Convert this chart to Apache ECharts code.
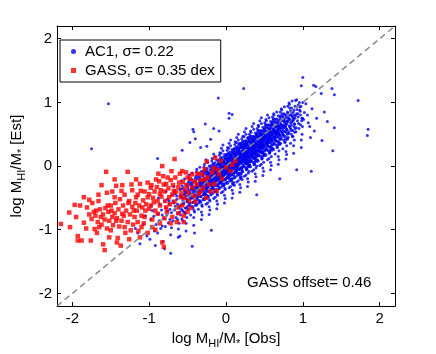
<!DOCTYPE html>
<html lang="en">
<head>
    <meta charset="UTF-8">
    <script src="https://cdn.jsdelivr.net/npm/echarts@6/dist/echarts.min.js"></script>
    <title>HI fraction estimate</title>
    <style>
        body { margin: 0; background: #fff; }
    </style>
</head>
<body>
<div id="main" style="width: 436px;height:354px;"></div>

<script>
    // axis range and tick labels
    var axisRange = [-2.2, 2.2];
    var tickValues = [-2, -1, 0, 1, 2];
    var identityLine = [[-2.2, -2.2], [2.2, 2.2]];

    var ac1Name = 'AC1, σ= 0.22';
    var gassName = 'GASS, σ= 0.35 dex';
    var offsetText = 'GASS offset= 0.46';

    var ac1Points = [
        [-1.15,-1.05],[-1.08,-0.92],[-1.12,-1.22],[-1.03,-1.10],[-1.18,-0.98],[-1.05,-0.78],
        [-0.98,-0.84],[-0.93,-1.02],[-0.96,-0.70],[-0.91,-0.92],[-0.99,-1.15],[-0.94,-0.79],[-0.92,-1.25],[-0.97,-0.62],
        [-0.88,-0.75],[-0.83,-0.94],[-0.86,-0.60],[-0.81,-0.82],[-0.89,-1.05],[-0.84,-0.69],[-0.82,-1.18],[-0.87,-0.86],[-0.80,-0.55],[-0.85,-0.98],[-0.83,-0.77],[-0.88,-0.50],
        [-0.78,-0.66],[-0.73,-0.84],[-0.76,-0.52],[-0.71,-0.73],[-0.79,-0.95],[-0.74,-0.60],[-0.72,-1.08],[-0.77,-0.77],[-0.70,-0.45],[-0.75,-0.89],[-0.73,-0.68],[-0.78,-0.40],[-0.71,-0.97],[-0.76,-0.71],[-0.74,-0.55],[-0.72,-1.37],
        [-0.68,-0.58],[-0.63,-0.75],[-0.66,-0.44],[-0.61,-0.65],[-0.69,-0.86],[-0.64,-0.52],[-0.62,-0.99],[-0.67,-0.69],[-0.60,-0.37],[-0.65,-0.81],[-0.63,-0.60],[-0.68,-0.32],[-0.61,-0.90],[-0.66,-0.63],[-0.64,-0.47],[-0.62,-1.12],[-0.69,-0.55],[-0.60,-0.72],[-0.67,-0.40],[-0.63,-0.84],
        [-0.58,-0.49],[-0.53,-0.66],[-0.56,-0.35],[-0.51,-0.56],[-0.59,-0.77],[-0.54,-0.43],[-0.52,-0.90],[-0.57,-0.60],[-0.50,-0.28],[-0.55,-0.72],[-0.53,-0.51],[-0.58,-0.23],[-0.51,-0.81],[-0.56,-0.54],[-0.54,-0.38],[-0.52,-1.02],[-0.59,-0.46],[-0.50,-0.63],[-0.57,-0.31],[-0.53,-0.75],[-0.55,-0.58],[-0.51,-0.42],[-0.58,-0.68],[-0.54,-0.20],[-0.56,-0.86],[-0.52,-0.47],
        [-0.48,-0.40],[-0.43,-0.57],[-0.46,-0.26],[-0.41,-0.47],[-0.49,-0.68],[-0.44,-0.34],[-0.42,-0.81],[-0.47,-0.51],[-0.40,-0.19],[-0.45,-0.63],[-0.43,-0.42],[-0.48,-0.14],[-0.41,-0.72],[-0.46,-0.45],[-0.44,-0.29],[-0.42,-0.93],[-0.49,-0.37],[-0.40,-0.54],[-0.47,-0.22],[-0.43,-0.66],[-0.45,-0.49],[-0.41,-0.33],[-0.48,-0.59],[-0.44,-0.11],[-0.46,-0.77],[-0.42,-0.38],[-0.47,-0.44],[-0.40,-0.62],[-0.45,-0.31],[-0.43,-0.50],[-0.49,-0.25],[-0.41,-1.05],
        [-0.38,-0.31],[-0.33,-0.48],[-0.36,-0.17],[-0.31,-0.38],[-0.39,-0.59],[-0.34,-0.25],[-0.32,-0.72],[-0.37,-0.42],[-0.30,-0.10],[-0.35,-0.54],[-0.33,-0.33],[-0.38,-0.05],[-0.31,-0.63],[-0.36,-0.36],[-0.34,-0.20],[-0.32,-0.84],[-0.39,-0.28],[-0.30,-0.45],[-0.37,-0.13],[-0.33,-0.57],[-0.35,-0.40],[-0.31,-0.24],[-0.38,-0.50],[-0.34,-0.02],[-0.36,-0.68],[-0.32,-0.29],[-0.37,-0.35],[-0.30,-0.53],[-0.35,-0.22],[-0.33,-0.41],[-0.39,-0.16],[-0.31,-0.77],[-0.36,-0.46],[-0.34,-0.31],[-0.38,-0.61],[-0.32,-0.08],[-0.35,-0.37],[-0.30,-0.27],
        [-0.28,-0.23],[-0.23,-0.40],[-0.26,-0.09],[-0.21,-0.30],[-0.29,-0.51],[-0.24,-0.17],[-0.22,-0.64],[-0.27,-0.34],[-0.20,-0.02],[-0.25,-0.46],[-0.23,-0.25],[-0.28,0.03],[-0.21,-0.55],[-0.26,-0.28],[-0.24,-0.12],[-0.22,-0.76],[-0.29,-0.20],[-0.20,-0.37],[-0.27,-0.05],[-0.23,-0.49],[-0.25,-0.32],[-0.21,-0.16],[-0.28,-0.42],[-0.24,0.06],[-0.26,-0.60],[-0.22,-0.21],[-0.27,-0.27],[-0.20,-0.45],[-0.25,-0.14],[-0.23,-0.33],[-0.29,-0.08],[-0.21,-0.69],[-0.26,-0.38],[-0.24,-0.23],[-0.28,-0.53],[-0.22,0.00],[-0.25,-0.29],[-0.20,-0.19],[-0.27,-0.44],[-0.23,-0.11],[-0.29,-0.35],[-0.21,-0.26],[-0.26,0.10],[-0.24,-0.58],
        [-0.18,-0.14],[-0.13,-0.31],[-0.16,0.00],[-0.11,-0.21],[-0.19,-0.42],[-0.14,-0.08],[-0.12,-0.55],[-0.17,-0.25],[-0.10,0.07],[-0.15,-0.37],[-0.13,-0.16],[-0.18,0.12],[-0.11,-0.46],[-0.16,-0.19],[-0.14,-0.03],[-0.12,-0.67],[-0.19,-0.11],[-0.10,-0.28],[-0.17,0.04],[-0.13,-0.40],[-0.15,-0.23],[-0.11,-0.07],[-0.18,-0.33],[-0.14,0.15],[-0.16,-0.51],[-0.12,-0.12],[-0.17,-0.18],[-0.10,-0.36],[-0.15,-0.05],[-0.13,-0.24],[-0.19,0.01],[-0.11,-0.60],[-0.16,-0.29],[-0.14,-0.14],[-0.18,-0.44],[-0.12,0.09],[-0.15,-0.20],[-0.10,-0.10],[-0.17,-0.35],[-0.13,-0.02],[-0.19,-0.26],[-0.11,-0.17],[-0.16,0.19],[-0.14,-0.49],[-0.18,-0.06],[-0.12,-0.30],[-0.15,-0.13],[-0.11,0.03],[-0.17,-0.22],[-0.13,-0.39],
        [-0.08,-0.05],[-0.03,-0.22],[-0.06,0.09],[-0.01,-0.12],[-0.09,-0.33],[-0.04,0.01],[-0.02,-0.46],[-0.07,-0.16],[0.00,0.16],[-0.05,-0.28],[-0.03,-0.07],[-0.08,0.21],[-0.01,-0.37],[-0.06,-0.10],[-0.04,0.06],[-0.02,-0.58],[-0.09,-0.02],[0.00,-0.19],[-0.07,0.13],[-0.03,-0.31],[-0.05,-0.14],[-0.01,0.02],[-0.08,-0.24],[-0.04,0.24],[-0.06,-0.42],[-0.02,-0.03],[-0.07,-0.09],[0.00,-0.27],[-0.05,0.04],[-0.03,-0.15],[-0.09,0.10],[-0.01,-0.51],[-0.06,-0.20],[-0.04,-0.05],[-0.08,-0.35],[-0.02,0.18],[-0.05,-0.11],[0.00,-0.01],[-0.07,-0.26],[-0.03,0.07],[-0.09,-0.17],[-0.01,-0.08],[-0.06,0.28],[-0.04,-0.40],[-0.08,0.03],[-0.02,-0.21],[-0.05,-0.04],[-0.01,0.12],[-0.07,-0.13],[-0.03,-0.30],[-0.06,0.05],[-0.02,-0.10],[-0.08,-0.19],[-0.04,0.33],
        [0.02,0.03],[0.07,-0.14],[0.04,0.17],[0.09,-0.04],[0.01,-0.25],[0.06,0.09],[0.08,-0.38],[0.03,-0.08],[0.10,0.24],[0.05,-0.20],[0.07,0.01],[0.02,0.29],[0.09,-0.29],[0.04,-0.02],[0.06,0.14],[0.08,-0.50],[0.01,0.06],[0.10,-0.11],[0.03,0.21],[0.07,-0.23],[0.05,-0.06],[0.09,0.10],[0.02,-0.16],[0.06,0.32],[0.04,-0.34],[0.08,0.05],[0.03,-0.01],[0.10,-0.19],[0.05,0.12],[0.07,-0.07],[0.01,0.18],[0.09,-0.43],[0.04,-0.12],[0.06,0.03],[0.02,-0.27],[0.08,0.26],[0.05,-0.03],[0.10,0.07],[0.03,-0.18],[0.07,0.15],[0.01,-0.09],[0.09,0.00],[0.04,0.36],[0.06,-0.32],[0.02,0.11],[0.08,-0.13],[0.05,0.04],[0.09,0.20],[0.03,-0.05],[0.07,-0.22],[0.04,0.13],[0.08,-0.02],[0.02,-0.11],[0.06,0.41],[0.05,0.08],[0.10,-0.26],[0.03,0.02],[0.07,0.19],
        [0.12,0.12],[0.17,-0.05],[0.14,0.26],[0.19,0.05],[0.11,-0.16],[0.16,0.18],[0.18,-0.29],[0.13,0.01],[0.20,0.33],[0.15,-0.11],[0.17,0.10],[0.12,0.38],[0.19,-0.20],[0.14,0.07],[0.16,0.23],[0.18,-0.41],[0.11,0.15],[0.20,-0.02],[0.13,0.30],[0.17,-0.14],[0.15,0.03],[0.19,0.19],[0.12,-0.07],[0.16,0.41],[0.14,-0.25],[0.18,0.14],[0.13,0.08],[0.20,-0.10],[0.15,0.21],[0.17,0.02],[0.11,0.27],[0.19,-0.34],[0.14,-0.03],[0.16,0.12],[0.12,-0.18],[0.18,0.35],[0.15,0.06],[0.20,0.16],[0.13,-0.09],[0.17,0.24],[0.11,0.00],[0.19,0.09],[0.14,0.45],[0.16,-0.23],[0.12,0.20],[0.18,-0.04],[0.15,0.13],[0.19,0.29],[0.13,0.04],[0.17,-0.13],[0.14,0.22],[0.18,0.07],[0.12,-0.02],[0.16,0.50],[0.15,0.17],[0.20,-0.17],[0.13,0.11],[0.17,0.28],[0.11,-0.30],[0.19,0.36],
        [0.22,0.21],[0.27,0.04],[0.24,0.35],[0.29,0.14],[0.21,-0.07],[0.26,0.27],[0.28,-0.20],[0.23,0.10],[0.30,0.42],[0.25,-0.02],[0.27,0.19],[0.22,0.47],[0.29,-0.11],[0.24,0.16],[0.26,0.32],[0.28,-0.32],[0.21,0.24],[0.30,0.07],[0.23,0.39],[0.27,-0.05],[0.25,0.12],[0.29,0.28],[0.22,0.02],[0.26,0.50],[0.24,-0.16],[0.28,0.23],[0.23,0.17],[0.30,-0.01],[0.25,0.30],[0.27,0.11],[0.21,0.36],[0.29,-0.25],[0.24,0.06],[0.26,0.21],[0.22,-0.09],[0.28,0.44],[0.25,0.15],[0.30,0.25],[0.23,0.00],[0.27,0.33],[0.21,0.09],[0.29,0.18],[0.24,0.54],[0.26,-0.14],[0.22,0.29],[0.28,0.05],[0.25,0.22],[0.29,0.38],[0.23,0.13],[0.27,-0.04],[0.24,0.31],[0.28,0.16],[0.22,0.07],[0.26,0.59],[0.25,0.26],[0.30,-0.08],[0.23,0.20],[0.27,0.37],[0.21,-0.21],[0.29,0.45],
        [0.32,0.29],[0.37,0.12],[0.34,0.43],[0.39,0.22],[0.31,0.01],[0.36,0.35],[0.38,-0.12],[0.33,0.18],[0.40,0.50],[0.35,0.06],[0.37,0.27],[0.32,0.55],[0.39,-0.03],[0.34,0.24],[0.36,0.40],[0.38,-0.24],[0.31,0.32],[0.40,0.15],[0.33,0.47],[0.37,0.03],[0.35,0.20],[0.39,0.36],[0.32,0.10],[0.36,0.58],[0.34,-0.08],[0.38,0.31],[0.33,0.25],[0.40,0.07],[0.35,0.38],[0.37,0.19],[0.31,0.44],[0.39,-0.17],[0.34,0.14],[0.36,0.29],[0.32,-0.01],[0.38,0.52],[0.35,0.23],[0.40,0.33],[0.33,0.08],[0.37,0.41],[0.31,0.17],[0.39,0.26],[0.34,0.62],[0.36,-0.06],[0.32,0.37],[0.38,0.13],[0.35,0.30],[0.39,0.46],[0.33,0.21],[0.37,0.04],[0.34,0.39],[0.38,0.24],[0.32,0.15],[0.36,0.67],[0.35,0.34],[0.40,0.00],[0.33,0.28],[0.37,0.45],
        [0.42,0.38],[0.47,0.21],[0.44,0.52],[0.49,0.31],[0.41,0.10],[0.46,0.44],[0.48,-0.03],[0.43,0.27],[0.50,0.59],[0.45,0.15],[0.47,0.36],[0.42,0.64],[0.49,0.06],[0.44,0.33],[0.46,0.49],[0.48,-0.15],[0.41,0.41],[0.50,0.24],[0.43,0.56],[0.47,0.12],[0.45,0.29],[0.49,0.45],[0.42,0.19],[0.46,0.67],[0.44,0.01],[0.48,0.40],[0.43,0.34],[0.50,0.16],[0.45,0.47],[0.47,0.28],[0.41,0.53],[0.49,-0.08],[0.44,0.23],[0.46,0.38],[0.42,0.08],[0.48,0.61],[0.45,0.32],[0.50,0.42],[0.43,0.17],[0.47,0.50],[0.41,0.26],[0.49,0.35],[0.44,0.71],[0.46,0.03],[0.42,0.46],[0.48,0.22],[0.45,0.39],[0.49,0.55],[0.43,0.30],[0.47,0.13],[0.44,0.48],[0.48,0.33],[0.42,0.24],[0.46,0.76],[0.45,0.43],
        [0.52,0.47],[0.57,0.30],[0.54,0.61],[0.59,0.40],[0.51,0.19],[0.56,0.53],[0.58,0.06],[0.53,0.36],[0.60,0.68],[0.55,0.24],[0.57,0.45],[0.52,0.73],[0.59,0.15],[0.54,0.42],[0.56,0.58],[0.58,-0.06],[0.51,0.50],[0.60,0.33],[0.53,0.65],[0.57,0.21],[0.55,0.38],[0.59,0.54],[0.52,0.28],[0.56,0.76],[0.54,0.10],[0.58,0.49],[0.53,0.43],[0.60,0.25],[0.55,0.56],[0.57,0.37],[0.51,0.62],[0.59,0.01],[0.54,0.32],[0.56,0.47],[0.52,0.17],[0.58,0.70],[0.55,0.41],[0.60,0.51],[0.53,0.26],[0.57,0.59],[0.51,0.35],[0.59,0.44],[0.54,0.80],[0.56,0.12],[0.52,0.55],[0.58,0.31],[0.55,0.48],[0.59,0.64],[0.53,0.39],[0.57,0.22],
        [0.62,0.56],[0.67,0.39],[0.64,0.70],[0.69,0.49],[0.61,0.28],[0.66,0.62],[0.68,0.15],[0.63,0.45],[0.70,0.77],[0.65,0.33],[0.67,0.54],[0.62,0.82],[0.69,0.24],[0.64,0.51],[0.66,0.67],[0.68,0.03],[0.61,0.59],[0.70,0.42],[0.63,0.74],[0.67,0.30],[0.65,0.47],[0.69,0.63],[0.62,0.37],[0.66,0.85],[0.64,0.19],[0.68,0.58],[0.63,0.52],[0.70,0.34],[0.65,0.65],[0.67,0.46],[0.61,0.71],[0.69,0.10],[0.64,0.41],[0.66,0.56],[0.62,0.26],[0.68,0.79],[0.65,0.50],[0.70,0.60],[0.63,0.35],[0.67,0.68],[0.61,0.44],[0.69,0.53],
        [0.72,0.64],[0.77,0.47],[0.74,0.78],[0.79,0.57],[0.71,0.36],[0.76,0.70],[0.78,0.23],[0.73,0.53],[0.80,0.85],[0.75,0.41],[0.77,0.62],[0.72,0.90],[0.79,0.32],[0.74,0.59],[0.76,0.75],[0.78,0.11],[0.71,0.67],[0.80,0.50],[0.73,0.82],[0.77,0.38],[0.75,0.55],[0.79,0.71],[0.72,0.45],[0.76,0.93],[0.74,0.27],[0.78,0.66],[0.73,0.60],[0.80,0.42],[0.75,0.73],[0.77,0.54],[0.71,0.79],[0.79,0.18],[0.74,0.49],[0.76,0.64],
        [0.82,0.73],[0.87,0.56],[0.84,0.87],[0.89,0.66],[0.81,0.45],[0.86,0.79],[0.88,0.32],[0.83,0.62],[0.90,0.94],[0.85,0.50],[0.87,0.71],[0.82,0.99],[0.89,0.41],[0.84,0.68],[0.86,0.84],[0.88,0.20],[0.81,0.76],[0.90,0.59],[0.83,0.91],[0.87,0.47],[0.85,0.64],[0.89,0.80],[0.82,0.54],[0.86,1.02],[0.84,0.36],[0.88,0.75],
        [0.92,0.82],[0.97,0.65],[0.94,0.96],[0.99,0.75],[0.91,0.54],[0.96,0.88],[0.98,0.41],[0.93,0.71],[1.00,1.00],[0.95,0.59],[0.97,0.80],[0.92,1.04],[0.99,0.50],[0.94,0.77],[0.96,0.93],[0.98,0.29],
        [1.02,0.84],[1.07,0.68],[1.04,0.98],[1.09,0.62],[1.01,0.73],[1.12,0.90],[1.15,0.55],[1.06,0.80],[1.18,0.75],[1.10,0.45],
        [-1.53,0.98],[-1.75,0.27],[-0.10,1.07],[0.23,1.22],[1.00,1.39],[1.72,1.03],[1.85,0.58],[1.84,0.48],[1.39,0.24],[1.41,1.12],
        [1.38,1.22],[1.24,1.14],[1.17,1.25],[0.98,1.26],[1.41,0.60],[1.11,-0.08],[0.92,-0.06],[-0.19,-1.01],[-0.44,-1.26],[-0.89,0.12],
        [-0.47,0.37],[-0.27,0.66],[0.08,0.81],[-0.42,0.54],[0.04,0.83],[0.04,0.75],[-0.43,0.58],[-0.40,0.43],[-0.57,0.25],[-0.16,0.59],
        [-0.09,0.55],[-0.20,0.42],[-0.33,0.29],[-0.25,0.31],[1.14,1.27],[1.28,0.85],[1.25,0.40],[1.32,0.70],[0.70,-0.20],[0.40,-0.45],
        [-0.60,-1.10],[-0.80,-1.30]
    ];

    // more AC1 points in the dense core of the cloud
    var ac1Core = [
        [-0.595,-0.62],[-0.515,-0.41],[-0.565,-0.50],[-0.535,-0.73],[-0.585,-0.36],[-0.505,-0.55],[-0.545,-0.45],[-0.575,-0.83],[-0.525,-0.30],[-0.555,-0.60],[-0.515,-0.66],[-0.595,-0.47],[-0.535,-0.39],[-0.565,-0.70],[-0.505,-0.52],
        [-0.455,-0.36],[-0.495,-0.55],[-0.415,-0.48],[-0.475,-0.29],[-0.435,-0.64],[-0.405,-0.40],[-0.485,-0.47],[-0.445,-0.21],[-0.425,-0.57],[-0.465,-0.43],[-0.495,-0.33],[-0.415,-0.70],[-0.455,-0.51],[-0.435,-0.26],[-0.405,-0.45],[-0.475,-0.62],[-0.445,-0.38],[-0.485,-0.18],[-0.425,-0.35],[-0.465,-0.58],
        [-0.355,-0.27],[-0.395,-0.46],[-0.315,-0.39],[-0.375,-0.20],[-0.335,-0.55],[-0.305,-0.31],[-0.385,-0.38],[-0.345,-0.12],[-0.325,-0.48],[-0.365,-0.34],[-0.395,-0.24],[-0.315,-0.61],[-0.355,-0.42],[-0.335,-0.17],[-0.305,-0.36],[-0.375,-0.53],[-0.345,-0.29],[-0.385,-0.09],[-0.325,-0.26],[-0.365,-0.49],[-0.395,-0.35],[-0.315,-0.22],[-0.355,-0.58],[-0.335,-0.41],[-0.305,-0.14],[-0.375,-0.32],
        [-0.255,-0.19],[-0.295,-0.38],[-0.215,-0.31],[-0.275,-0.12],[-0.235,-0.47],[-0.205,-0.23],[-0.285,-0.30],[-0.245,-0.04],[-0.225,-0.40],[-0.265,-0.26],[-0.295,-0.16],[-0.215,-0.53],[-0.255,-0.34],[-0.235,-0.09],[-0.205,-0.28],[-0.275,-0.45],[-0.245,-0.21],[-0.285,-0.01],[-0.225,-0.18],[-0.265,-0.41],[-0.295,-0.27],[-0.215,-0.14],[-0.255,-0.50],[-0.235,-0.33],[-0.205,-0.06],[-0.275,-0.24],[-0.245,-0.36],[-0.225,-0.11],[-0.285,-0.44],[-0.265,-0.20],[-0.215,-0.29],[-0.255,-0.07],
        [-0.155,-0.10],[-0.195,-0.29],[-0.115,-0.22],[-0.175,-0.03],[-0.135,-0.38],[-0.105,-0.14],[-0.185,-0.21],[-0.145,0.05],[-0.125,-0.31],[-0.165,-0.17],[-0.195,-0.07],[-0.115,-0.44],[-0.155,-0.25],[-0.135,0.00],[-0.105,-0.19],[-0.175,-0.36],[-0.145,-0.12],[-0.185,0.08],[-0.125,-0.09],[-0.165,-0.32],[-0.195,-0.18],[-0.115,-0.05],[-0.155,-0.41],[-0.135,-0.24],[-0.105,0.03],[-0.175,-0.15],[-0.145,-0.27],[-0.125,-0.02],[-0.185,-0.35],[-0.165,-0.11],[-0.115,-0.20],[-0.155,0.02],[-0.135,-0.13],[-0.105,-0.30],[-0.175,-0.08],[-0.195,-0.23],[-0.145,-0.19],[-0.125,-0.37],
        [-0.055,-0.01],[-0.095,-0.20],[-0.015,-0.13],[-0.075,0.06],[-0.035,-0.29],[-0.005,-0.05],[-0.085,-0.12],[-0.045,0.14],[-0.025,-0.22],[-0.065,-0.08],[-0.095,0.02],[-0.015,-0.35],[-0.055,-0.16],[-0.035,0.09],[-0.005,-0.10],[-0.075,-0.27],[-0.045,-0.03],[-0.085,0.17],[-0.025,0.00],[-0.065,-0.23],[-0.095,-0.09],[-0.015,0.04],[-0.055,-0.32],[-0.035,-0.15],[-0.005,0.12],[-0.075,-0.06],[-0.045,-0.18],[-0.025,0.07],[-0.085,-0.26],[-0.065,-0.02],[-0.015,-0.11],[-0.055,0.11],[-0.035,-0.04],[-0.005,-0.21],[-0.075,0.01],[-0.095,-0.14],[-0.045,-0.10],[-0.025,-0.28],[-0.065,0.20],[-0.085,-0.04],[-0.015,0.15],[-0.055,-0.24],[-0.035,-0.07],[-0.005,0.03],
        [0.045,0.07],[0.005,-0.12],[0.085,-0.05],[0.025,0.14],[0.065,-0.21],[0.095,0.03],[0.015,-0.04],[0.055,0.22],[0.075,-0.14],[0.035,0.00],[0.005,0.10],[0.085,-0.27],[0.045,-0.08],[0.065,0.17],[0.095,-0.02],[0.025,-0.19],[0.055,0.05],[0.015,0.25],[0.075,0.08],[0.035,-0.15],[0.005,-0.01],[0.085,0.12],[0.045,-0.24],[0.065,-0.07],[0.095,0.20],[0.025,0.02],[0.055,-0.10],[0.075,0.15],[0.015,-0.18],[0.035,0.06],[0.085,-0.03],[0.045,0.19],[0.065,0.04],[0.095,-0.13],[0.025,0.09],[0.005,-0.06],[0.055,-0.02],[0.075,-0.20],[0.035,0.28],[0.015,0.04],[0.085,0.23],[0.045,-0.16],[0.065,0.01],[0.095,0.11],[0.025,-0.09],[0.055,0.13],[0.005,0.18],[0.075,-0.04],[0.035,-0.11],[0.015,0.08],
        [0.145,0.16],[0.105,-0.03],[0.185,0.04],[0.125,0.23],[0.165,-0.12],[0.195,0.12],[0.115,0.05],[0.155,0.31],[0.175,-0.05],[0.135,0.09],[0.105,0.19],[0.185,-0.18],[0.145,0.01],[0.165,0.26],[0.195,0.07],[0.125,-0.10],[0.155,0.14],[0.115,0.34],[0.175,0.17],[0.135,-0.06],[0.105,0.08],[0.185,0.21],[0.145,-0.15],[0.165,0.02],[0.195,0.29],[0.125,0.11],[0.155,-0.01],[0.175,0.24],[0.115,-0.09],[0.135,0.15],[0.185,0.06],[0.145,0.28],[0.165,0.13],[0.195,-0.04],[0.125,0.18],[0.105,0.03],[0.155,0.07],[0.175,-0.11],[0.135,0.37],[0.115,0.13],[0.185,0.32],[0.145,-0.07],[0.165,0.10],[0.195,0.20],[0.125,0.00],[0.155,0.22],[0.105,0.27],[0.175,0.05],[0.135,-0.02],[0.115,0.17],[0.145,0.09],[0.185,0.14],[0.165,0.35],[0.125,0.06],[0.195,-0.13],
        [0.235,0.30],[0.275,0.09],[0.205,0.18],[0.255,0.40],[0.295,0.14],[0.215,-0.02],[0.265,0.25],[0.245,0.06],[0.285,0.33],[0.225,0.21],[0.205,0.43],[0.295,0.01],[0.255,0.17],[0.235,0.11],[0.275,0.36],[0.215,0.24],[0.265,-0.06],[0.285,0.20],[0.245,0.28],[0.225,0.08],[0.205,0.31],[0.295,0.23],[0.255,0.04],[0.235,0.46],[0.275,0.16],[0.215,0.13],[0.265,0.38],[0.285,-0.01],[0.245,0.19],[0.225,0.34],[0.205,0.05],[0.295,0.27],[0.255,0.12],[0.235,0.22],[0.275,0.03],[0.215,0.39],[0.265,0.15],[0.285,0.29],[0.245,0.10],[0.225,0.26],[0.205,0.20],[0.295,0.41],[0.255,0.24],[0.235,0.00],[0.275,0.22],[0.215,0.30],[0.265,0.07],[0.285,0.13],[0.245,0.35],[0.225,0.15],[0.205,-0.05],[0.295,0.09],[0.255,0.32],[0.235,0.18],[0.275,0.27],
        [0.325,0.36],[0.385,0.18],[0.305,0.26],[0.355,0.47],[0.395,0.22],[0.315,0.07],[0.365,0.33],[0.345,0.14],[0.375,0.41],[0.335,0.29],[0.305,0.50],[0.395,0.09],[0.355,0.25],[0.325,0.19],[0.385,0.44],[0.315,0.31],[0.365,0.02],[0.375,0.28],[0.345,0.36],[0.335,0.16],[0.305,0.39],[0.395,0.31],[0.355,0.12],[0.325,0.53],[0.385,0.24],[0.315,0.21],[0.365,0.46],[0.375,0.07],[0.345,0.27],[0.335,0.42],[0.305,0.13],[0.395,0.35],[0.355,0.20],[0.325,0.30],[0.385,0.11],[0.315,0.47],[0.365,0.23],[0.375,0.37],[0.345,0.18],[0.335,0.34],[0.305,0.28],[0.395,0.49],[0.355,0.32],[0.325,0.08],[0.385,0.30],[0.315,0.38],[0.365,0.15],[0.375,0.21],[0.345,0.43],[0.335,0.23],[0.305,0.03],[0.395,0.17],[0.355,0.40],[0.325,0.26],[0.385,0.35],
        [0.425,0.45],[0.485,0.27],[0.405,0.35],[0.455,0.56],[0.495,0.31],[0.415,0.16],[0.465,0.42],[0.445,0.23],[0.475,0.50],[0.435,0.38],[0.405,0.59],[0.495,0.18],[0.455,0.34],[0.425,0.28],[0.485,0.53],[0.415,0.40],[0.465,0.11],[0.475,0.37],[0.445,0.45],[0.435,0.25],[0.405,0.48],[0.495,0.40],[0.455,0.21],[0.425,0.62],[0.485,0.33],[0.415,0.30],[0.465,0.55],[0.475,0.16],[0.445,0.36],[0.435,0.51],[0.405,0.22],[0.495,0.44],[0.455,0.29],[0.425,0.39],[0.485,0.20],[0.415,0.56],[0.465,0.32],[0.475,0.46],[0.445,0.27],[0.435,0.43],[0.405,0.37],[0.495,0.58],[0.455,0.41],[0.425,0.17],[0.485,0.39],[0.415,0.47],[0.465,0.24],[0.475,0.30],[0.445,0.52],[0.435,0.32],
        [0.525,0.54],[0.585,0.36],[0.505,0.44],[0.555,0.65],[0.595,0.40],[0.515,0.25],[0.565,0.51],[0.545,0.32],[0.575,0.59],[0.535,0.47],[0.505,0.68],[0.595,0.27],[0.555,0.43],[0.525,0.37],[0.585,0.62],[0.515,0.49],[0.565,0.20],[0.575,0.46],[0.545,0.54],[0.535,0.34],[0.505,0.57],[0.595,0.49],[0.555,0.30],[0.525,0.71],[0.585,0.42],[0.515,0.39],[0.565,0.64],[0.575,0.25],[0.545,0.45],[0.535,0.60],[0.505,0.31],[0.595,0.53],[0.555,0.38],[0.525,0.48],[0.585,0.29],[0.515,0.65],[0.565,0.41],[0.575,0.55],[0.545,0.36],[0.535,0.52],[0.505,0.46],[0.595,0.67],[0.555,0.50],[0.525,0.26],[0.585,0.48],
        [0.625,0.63],[0.685,0.45],[0.605,0.53],[0.655,0.74],[0.695,0.49],[0.615,0.34],[0.665,0.60],[0.645,0.41],[0.675,0.68],[0.635,0.56],[0.605,0.77],[0.695,0.36],[0.655,0.52],[0.625,0.46],[0.685,0.71],[0.615,0.58],[0.665,0.29],[0.675,0.55],[0.645,0.63],[0.635,0.43],[0.605,0.66],[0.695,0.58],[0.655,0.39],[0.625,0.80],[0.685,0.51],[0.615,0.48],[0.665,0.73],[0.675,0.34],[0.645,0.54],[0.635,0.69],[0.605,0.40],[0.695,0.62],[0.655,0.47],[0.625,0.57],[0.685,0.38],[0.615,0.74],[0.665,0.50],[0.675,0.64],[0.645,0.45],[0.635,0.61],
        [0.725,0.71],[0.785,0.53],[0.705,0.61],[0.755,0.82],[0.795,0.57],[0.715,0.42],[0.765,0.68],[0.745,0.49],[0.775,0.76],[0.735,0.64],[0.705,0.85],[0.795,0.44],[0.755,0.60],[0.725,0.54],[0.785,0.79],[0.715,0.66],[0.765,0.37],[0.775,0.63],[0.745,0.71],[0.735,0.51],[0.705,0.74],[0.795,0.66],[0.755,0.47],[0.725,0.88],[0.785,0.59],[0.715,0.56],[0.765,0.81],[0.775,0.42],[0.745,0.62],[0.735,0.77],[0.705,0.48],[0.795,0.70],
        [0.825,0.80],[0.885,0.62],[0.805,0.70],[0.855,0.91],[0.895,0.66],[0.815,0.51],[0.865,0.77],[0.845,0.58],[0.875,0.85],[0.835,0.73],[0.805,0.94],[0.895,0.53],[0.855,0.69],[0.825,0.63],[0.885,0.88],[0.815,0.75],[0.865,0.46],[0.875,0.72],[0.845,0.80],[0.835,0.60],[0.805,0.83],[0.895,0.75],[0.855,0.56],[0.825,0.97],
        [0.925,0.89],[0.985,0.71],[0.905,0.79],[0.955,1.00],[0.995,0.75],[0.915,0.60],[0.965,0.86],[0.945,0.67],[0.975,0.94],[0.935,0.82],[0.905,1.03],[0.995,0.62]
    ];

    // GASS points
    var gassPoints = [
        [-2.15,-0.91],[-2.03,-0.96],[-2.04,-0.73],[-1.97,-0.61],[-1.93,-1.10],[-1.88,-1.17],[-1.93,-1.17],[-1.85,-0.49],[-1.85,-0.89],[-1.81,-0.65],
        [-1.78,-0.53],[-1.76,-1.17],[-1.75,-0.83],[-1.71,-0.99],[-1.69,-0.70],[-1.66,-0.55],[-1.63,-0.80],[-1.65,-0.96],[-1.60,-1.23],[-1.58,-1.32],
        [-1.56,-0.09],[-1.54,-0.62],[-1.55,-0.42],[-1.50,-1.01],[-1.49,-0.70],[-1.45,-0.21],[-1.43,-0.31],[-1.45,-0.49],[-1.43,-0.86],[-1.41,-1.13],
        [-1.37,-1.25],[-1.36,-0.39],[-1.35,-0.75],[-1.32,-0.96],[-1.28,-0.09],[-1.26,-0.55],[-1.24,-1.01],[-1.23,-0.29],[-1.20,-0.70],[-1.17,-0.21],
        [-1.17,-0.49],[-1.15,-0.88],[-1.12,-1.12],[-1.11,-0.39],[-1.09,-0.65],[-1.06,-0.80],[-1.02,-0.26],[-1.02,-0.49],[-1.00,-0.67],[-0.98,-0.34],
        [-0.96,-0.96],[-0.94,-0.57],[-0.91,-0.21],[-0.89,-0.75],[-0.86,-0.44],[-0.83,0.00],[-0.81,-1.27],[-0.81,-0.29],[-0.78,-0.65],[-0.76,-0.18],
        [-0.74,-0.49],[-0.71,-0.08],[-0.70,-0.80],[-0.68,-0.39],[-0.67,0.11],[-0.63,-0.65],[-0.61,-0.26],[-0.59,-0.49],[-0.57,-0.08],[-0.55,-0.78],
        [-0.53,-0.36],[-0.50,-0.18],[-0.48,-0.55],[-0.44,-0.13],[-0.42,-0.47],[-0.38,-0.29],[-0.33,-0.39],[-0.31,-0.13],[-0.27,-0.21],[-0.25,0.07],
        [-0.22,-0.29],[-0.16,-0.03],[-0.14,0.13],[-0.12,-0.39],[-0.09,-0.13],[-0.07,0.08],[0.12,0.08],[0.06,-0.08],
        [-1.72,-0.72],[-1.70,-0.78],[-1.67,-0.88],[-1.64,-0.68],[-1.62,-0.92],[-1.60,-0.76],[-1.58,-0.84],[-1.57,-0.66],[-1.55,-0.98],[-1.53,-0.72],
        [-1.52,-0.86],[-1.50,-0.62],[-1.48,-0.80],[-1.47,-0.93],[-1.45,-0.74],[-1.44,-0.58],[-1.42,-0.82],[-1.40,-0.68],[-1.39,-0.95],[-1.38,-0.52],
        [-1.36,-0.86],[-1.34,-0.62],[-1.33,-0.78],[-1.31,-1.05],[-1.30,-0.70],[-1.28,-0.88],[-1.27,-0.58],[-1.25,-0.76],[-1.22,-0.64],[-1.21,-0.92],
        [-1.19,-0.80],[-1.18,-0.58],[-1.16,-0.70],[-1.14,-1.02],[-1.13,-0.62],[-1.10,-0.78],[-1.08,-0.54],[-1.07,-0.90],[-1.05,-0.70],[-1.04,-0.60],
        [-1.00,-0.44],[-0.98,-0.62],[-0.97,-0.30],[-0.95,-0.50],[-0.93,-0.40],[-0.92,-0.70],[-0.90,-0.33],[-0.89,-0.55],[-0.87,-0.24],[-0.86,-0.62],
        [-0.85,-0.38],[-0.84,-0.48],[-0.82,-0.16],[-0.80,-0.40],[-0.79,-0.55],[-0.78,-0.28],[-0.77,-0.72],[-0.75,-0.35],[-0.73,-0.60],[-0.72,-0.22],
        [-0.70,-0.45],[-0.69,-0.30],[-0.67,-0.56],[-0.66,-0.18],[-0.65,-0.40],[-0.64,-0.88],[-0.62,-0.33],[-0.60,-0.12],[-0.58,-0.42],[-0.57,-0.62],
        [-0.56,-0.25],[-0.54,-0.50],[-0.52,-0.10],[-0.51,-0.30],[-0.49,-0.42],[-0.47,-0.20],[-0.46,-0.66],[-0.44,-0.34],[-0.41,-0.24],[-0.40,-0.56],
        [-0.37,-0.12],[-0.35,-0.44],[-0.33,-0.22],[-0.30,-0.34],[-0.28,-0.05],[-0.26,-0.50],[-0.24,-0.18],[-0.20,-0.40],[-0.18,-0.10],[-0.15,-0.28],
        [-0.10,-0.06],[-0.05,-0.20],[0.00,-0.02],[0.08,0.02],
        [-1.95,-0.80],[-1.90,-0.62],[-1.82,-0.98],[-1.78,-0.76],[-1.74,-0.58],[-1.68,-1.05],[-1.66,-0.45],[-1.62,-0.30],[-1.52,-1.12],[-1.48,-0.40],
        [-1.42,-1.20],[-1.35,-0.30],[-1.32,-0.45],[-1.26,-1.15],[-1.22,-0.38],[-1.15,-0.45],[-1.12,-0.28],[-1.10,-0.96],[-1.06,-0.40],[-1.02,-1.05],
        [-0.96,-0.84],[-0.92,-1.00],[-0.88,-0.12],[-0.86,-0.90],[-0.83,-1.20],[-0.80,-0.82],[-0.72,-0.90],[-0.62,-0.74],[-0.55,-0.88],[-0.50,-0.72]
    ];

    var font = 'Liberation Sans, Arial, sans-serif';
    var chartDom = document.getElementById('main');
    var myChart = echarts.init(chartDom);

    function tickFmt(v) {
        return tickValues.indexOf(Math.round(v * 10) / 10) >= 0 ? String(v) : '';
    }

    var baseAxis = {
        type: 'value',
        min: axisRange[0],
        max: axisRange[1],
        splitNumber: 4,
        axisLine: { show: true, onZero: false, lineStyle: { color: '#000', width: 1 } },
        axisTick: { show: true, inside: true, length: 4, lineStyle: { color: '#000' } },
        splitLine: { show: false }
    };

    var subStyle = { fontFamily: font, fontSize: 11, color: '#000', padding: [10, 0, 0, 0] };

    var option = {
        animation: false,
        grid: { left: 57, right: 41, top: 26, bottom: 44 },
        legend: {
            orient: 'vertical',
            left: 60,
            top: 40,
            padding: [4, 6, 4, 11],
            itemGap: 4,
            itemWidth: 5,
            itemHeight: 5,
            backgroundColor: '#fff',
            borderColor: '#000',
            borderWidth: 1,
            textStyle: { fontFamily: font, fontSize: 15, color: '#000', padding: [0, 0, 0, 4] },
            data: [
                { name: ac1Name, icon: 'circle' },
                { name: gassName, icon: 'rect' }
            ]
        },
        xAxis: [
            Object.assign({}, baseAxis, {
                position: 'bottom',
                name: 'log M{s|HI}/M{s|*} [Obs]',
                nameLocation: 'middle',
                nameGap: 20,
                nameTextStyle: { fontFamily: font, fontSize: 15, color: '#000', rich: { s: subStyle } },
                axisLabel: { margin: 5, fontFamily: font, fontSize: 15, color: '#000', formatter: tickFmt, showMinLabel: false, showMaxLabel: false }
            }),
            Object.assign({}, baseAxis, {
                position: 'top',
                axisLabel: { show: false }
            })
        ],
        yAxis: [
            Object.assign({}, baseAxis, {
                position: 'left',
                name: 'log M{s|HI}/M{s|*} [Est]',
                nameLocation: 'middle',
                nameGap: 28,
                nameRotate: 90,
                nameTextStyle: { fontFamily: font, fontSize: 15, color: '#000', rich: { s: subStyle } },
                axisLabel: { margin: 5, fontFamily: font, fontSize: 15, color: '#000', formatter: tickFmt, showMinLabel: false, showMaxLabel: false }
            }),
            Object.assign({}, baseAxis, {
                position: 'right',
                axisLabel: { show: false }
            })
        ],
        graphic: [
            {
                type: 'text',
                left: 247,
                top: 275,
                style: { text: offsetText, font: '15px ' + font, fill: '#000' }
            }
        ],
        series: [
            {
                name: ac1Name,
                type: 'scatter',
                symbol: 'circle',
                symbolSize: 3,
                itemStyle: { color: '#0000ee' },
                data: ac1Points.concat(ac1Core),
                z: 2
            },
            {
                name: gassName,
                type: 'scatter',
                symbol: 'rect',
                symbolSize: 4.5,
                itemStyle: { color: '#ff0000' },
                data: gassPoints,
                z: 3
            },
            {
                name: 'one-to-one',
                type: 'line',
                data: identityLine,
                symbol: 'none',
                lineStyle: { color: '#888', width: 1.5, type: [6, 4] },
                z: 4
            }
        ]
    };
    myChart.setOption(option);
</script>
</body>
</html>
